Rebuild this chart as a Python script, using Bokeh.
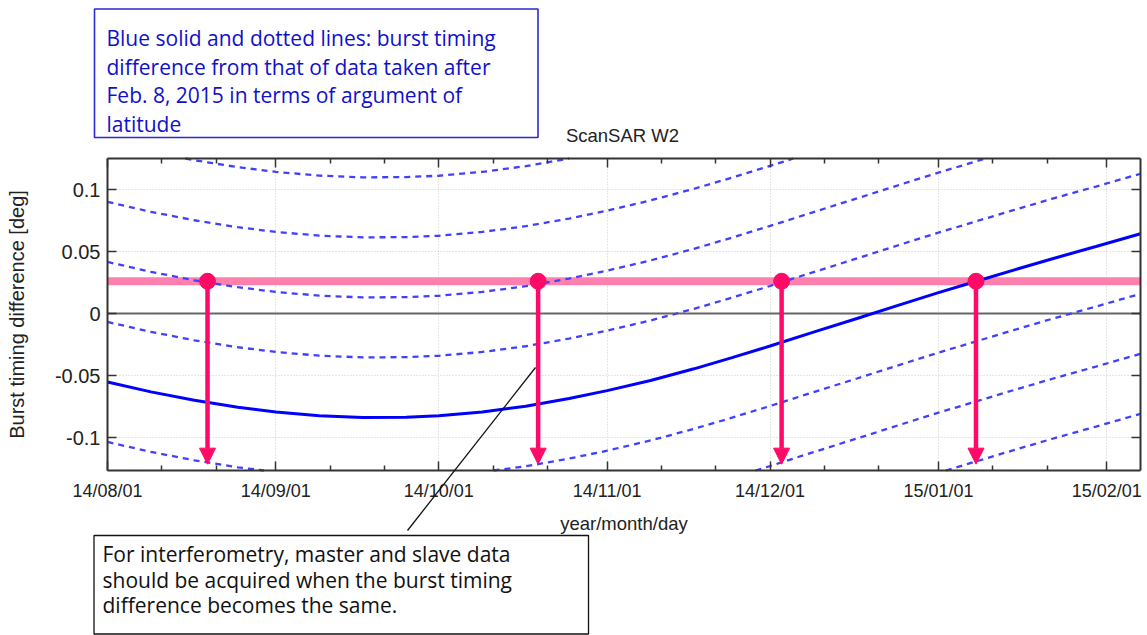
import pandas as pd
from bokeh.plotting import figure
from bokeh.models import (Range1d, FixedTicker, DatetimeTickFormatter, CustomJSTickFormatter,
                          DatetimeAxis, LinearAxis, Label, Arrow, NormalHead, ColumnDataSource,
                          BoxAnnotation, Grid)
from bokeh.embed import file_html
from bokeh.resources import INLINE

# ---------------- data ----------------
solid_dates = ["2014-08-01", "2014-08-09", "2014-08-17", "2014-08-25", "2014-09-01",
               "2014-09-09", "2014-09-17", "2014-09-25", "2014-10-01", "2014-10-09",
               "2014-10-17", "2014-10-25", "2014-11-01", "2014-11-09", "2014-11-17",
               "2014-11-24", "2014-12-01", "2014-12-09", "2014-12-17", "2014-12-25",
               "2015-01-01", "2015-01-08", "2015-01-15", "2015-01-22", "2015-01-30",
               "2015-02-07 05:00"]
solid_values = [-0.0552, -0.0632, -0.0700, -0.0756, -0.0794,
                -0.0824, -0.0838, -0.0836, -0.0825, -0.0794,
                -0.0748, -0.0686, -0.0622, -0.0540, -0.0446,
                -0.0356, -0.0262, -0.0150, -0.0040, 0.0072,
                0.0168, 0.0260, 0.0352, 0.0442, 0.0540,
                0.0643]
# dotted lines: the solid curve shifted by these amounts [deg]
dashed_offsets = [-0.1452, -0.0968, -0.0484, 0.0484, 0.0968, 0.1452, 0.1936]

marker_dates = ["2014-08-19 10:00", "2014-10-19 07:00", "2014-12-03 03:00", "2015-01-07 22:00"]
marker_level = 0.026
arrow_tip = -0.1215

month_ticks = ["2014-08-01", "2014-09-01", "2014-10-01", "2014-11-01", "2014-12-01",
               "2015-01-01", "2015-02-01"]
minor_ticks = ["2014-08-11", "2014-08-21", "2014-09-11", "2014-09-21", "2014-10-11", "2014-10-21",
               "2014-11-11", "2014-11-21", "2014-12-11", "2014-12-21", "2015-01-11", "2015-01-21"]
y_ticks = [-0.1, -0.05, 0, 0.05, 0.1]

x_start, x_end = "2014-08-01", "2015-02-07 05:00"
y_start, y_end = -0.1266, 0.125

title_text = "ScanSAR W2"
x_label = "year/month/day"
y_label = "Burst timing difference [deg]"
note_top = ["Blue solid and dotted lines: burst timing",
            "difference from that of data taken after",
            "Feb. 8, 2015 in terms of argument of",
            "latitude"]
note_bottom = ["For interferometry, master and slave data",
               "should be acquired when the burst timing",
               "difference becomes the same."]

# ---------------- helpers ----------------
EPOCH = pd.Timestamp("1970-01-01")


def ms(s):
    return (pd.Timestamp(s) - EPOCH) / pd.Timedelta(milliseconds=1)


W, H = 1147, 635
L, R, T, B = 107, 1140, 158, 470          # chart box on the page (px)
X0, X1 = ms(x_start), ms(x_end)
MS_PX = (X1 - X0) / (R - L)
U_PX = (y_end - y_start) / (B - T)
XA, XB = X0 - L * MS_PX, X1 + (W - R) * MS_PX      # whole-page data range
YA, YB = y_start - (H - B) * U_PX, y_end + T * U_PX


def px_x(px):
    return XA + px * MS_PX


def px_y(py):
    return YB - py * U_PX


def clip_line(xs, ys, lo, hi):
    """Cut a polyline to the band lo <= y <= hi; returns list of pieces."""
    pieces, cur = [], None
    for i in range(len(xs) - 1):
        x0, y0, x1, y1 = xs[i], ys[i], xs[i + 1], ys[i + 1]
        if y1 == y0:
            if lo <= y0 <= hi:
                t0, t1 = 0.0, 1.0
            else:
                t0, t1 = 1.0, 0.0
        else:
            ta, tb = (lo - y0) / (y1 - y0), (hi - y0) / (y1 - y0)
            t0, t1 = max(0.0, min(ta, tb)), min(1.0, max(ta, tb))
        if t0 > t1:
            if cur:
                pieces.append(cur)
            cur = None
            continue
        a = (x0 + t0 * (x1 - x0), y0 + t0 * (y1 - y0))
        b = (x0 + t1 * (x1 - x0), y0 + t1 * (y1 - y0))
        if cur is None:
            cur = ([a[0]], [a[1]])
        cur[0].append(b[0])
        cur[1].append(b[1])
        if t1 < 1.0:
            pieces.append(cur)
            cur = None
    if cur:
        pieces.append(cur)
    return pieces


BLUE = "#0000ff"
DBLUE = "#4040ff"
PINK = "#ff80ae"
RED = "#ff0a66"
AX = "#333333"
FONT = "Liberation Sans"
NOTE_FONT = "Open Sans"

p = figure(width=W, height=H, x_axis_type="datetime",
           x_range=Range1d(XA, XB), y_range=Range1d(YA, YB),
           output_backend="svg", toolbar_location=None,
           min_border_left=0, min_border_right=0, min_border_top=0, min_border_bottom=0)
p.title.visible = False
p.background_fill_color = "white"
p.border_fill_color = "white"
p.outline_line_color = None

xticker = FixedTicker(ticks=[ms(d) for d in month_ticks], minor_ticks=[ms(d) for d in minor_ticks])
yticker = FixedTicker(ticks=y_ticks)
fmt = "%y/%m/%d"
xfmt = DatetimeTickFormatter(days=fmt, months=fmt, years=fmt, hours=fmt, hourmin=fmt)


def style_axis(ax, labels=True, minor=True):
    ax.axis_line_color = AX
    ax.axis_line_width = 2
    ax.major_tick_in = 9
    ax.major_tick_out = 0
    ax.minor_tick_in = 5 if minor else 0
    ax.minor_tick_out = 0
    ax.major_tick_line_color = AX
    ax.major_tick_line_width = 1.5
    ax.minor_tick_line_color = AX if minor else None
    ax.minor_tick_line_width = 1.5
    if labels:
        ax.major_label_text_font = FONT
        ax.major_label_text_color = "#222222"
    else:
        ax.major_label_text_color = None
        ax.major_label_text_alpha = 0


xa = p.xaxis[0]
xa.ticker = xticker
xa.formatter = xfmt
xa.fixed_location = y_start
xa.bounds = (X0, X1)
style_axis(xa)
xa.major_label_text_font_size = "18px"
xa.major_label_standoff = 10
xa.axis_label = x_label
xa.axis_label_text_font = FONT
xa.axis_label_text_font_size = "18.5px"
xa.axis_label_text_font_style = "normal"
xa.axis_label_text_color = "#222222"
xa.axis_label_standoff = 9

ya = p.yaxis[0]
ya.ticker = yticker
ya.formatter = CustomJSTickFormatter(code="return String(Math.round(tick*1000)/1000);")
ya.fixed_location = X0
ya.bounds = (y_start, y_end)
style_axis(ya, minor=False)
ya.major_label_text_font_size = "20px"
ya.major_label_standoff = 7
ya.axis_label = y_label
ya.axis_label_text_font = FONT
ya.axis_label_text_font_size = "20px"
ya.axis_label_text_font_style = "normal"
ya.axis_label_text_color = "#222222"
ya.axis_label_standoff = 24

top_ax = DatetimeAxis(ticker=xticker, formatter=xfmt, fixed_location=y_end, bounds=(X0, X1))
style_axis(top_ax, labels=False)
p.add_layout(top_ax, "above")
right_ax = LinearAxis(ticker=yticker, fixed_location=X1, bounds=(y_start, y_end))
style_axis(right_ax, labels=False, minor=False)
p.add_layout(right_ax, "right")

# dotted grid limited to the chart box
GRID_COLOR, GRID_DASH = "#cccccc", "1 2"
if "cross_bounds" in Grid.properties():
    p.xgrid[0].ticker = xticker
    p.xgrid[0].bounds = (X0, X1)
    p.xgrid[0].cross_bounds = (y_start, y_end)
    p.ygrid[0].ticker = yticker
    p.ygrid[0].bounds = (y_start, y_end)
    p.ygrid[0].cross_bounds = (X0, X1)
    for g in (p.xgrid[0], p.ygrid[0]):
        g.grid_line_color = GRID_COLOR
        g.grid_line_dash = GRID_DASH
        g.grid_line_width = 1
else:
    p.xgrid[0].visible = False
    p.ygrid[0].visible = False
    mt = [ms(d) for d in month_ticks]
    p.segment(x0=mt, y0=[y_start] * len(mt), x1=mt, y1=[y_end] * len(mt),
              line_color=GRID_COLOR, line_dash=GRID_DASH, line_width=1)
    p.segment(x0=[X0] * len(y_ticks), y0=y_ticks, x1=[X1] * len(y_ticks), y1=y_ticks,
              line_color=GRID_COLOR, line_dash=GRID_DASH, line_width=1)

# zero line and pink level line
p.line([X0, X1], [0, 0], line_color="#666666", line_width=2)
p.line([X0, X1], [marker_level, marker_level], line_color=PINK, line_width=8)

# curves (cut to the chart box)
sx = [ms(d) for d in solid_dates]
dxs, dys = [], []
for off in dashed_offsets:
    for px_, py_ in clip_line(sx, [v + off for v in solid_values], y_start, y_end):
        dxs.append(px_)
        dys.append(py_)
p.multi_line(dxs, dys, line_color=DBLUE, line_width=2.3, line_dash="6 5")
for px_, py_ in clip_line(sx, solid_values, y_start, y_end):
    p.line(px_, py_, line_color=BLUE, line_width=3)

# markers and arrows
mx = [ms(d) for d in marker_dates]
msrc = ColumnDataSource(dict(x=mx, y=[marker_level] * len(mx), y2=[arrow_tip] * len(mx)))
p.add_layout(Arrow(source=msrc, x_start="x", y_start="y", x_end="x", y_end="y2",
                   line_color=RED, line_width=4.5,
                   end=NormalHead(size=16, fill_color=RED, line_color=RED, line_width=1)))
p.scatter("x", "y", source=msrc, size=16, color=RED)

# title
p.add_layout(Label(x=px_x(622), y=px_y(135), text=title_text, text_align="center",
                   text_baseline="alphabetic", text_font=FONT, text_font_size="18.5px",
                   text_color="#222222"))

# top note box
p.add_layout(BoxAnnotation(left=px_x(94), right=px_x(537.5), top=px_y(8.5), bottom=px_y(137),
                           fill_color=None, line_color="#2a2ad0", line_alpha=1.0, line_width=1.6))
for i, line in enumerate(note_top):
    p.add_layout(Label(x=px_x(106), y=px_y(37.3 + 28.7 * i), text=line, text_align="left",
                       text_baseline="alphabetic", text_font=NOTE_FONT, text_font_size="21px",
                       text_color="#1010cc"))

# bottom note box
p.add_layout(BoxAnnotation(left=px_x(93.5), right=px_x(588), top=px_y(535), bottom=px_y(633.5),
                           fill_color=None, line_color="#111111", line_alpha=1.0, line_width=1.3))
for i, line in enumerate(note_bottom):
    p.add_layout(Label(x=px_x(102), y=px_y(553.3 + 25.8 * i), text=line, text_align="left",
                       text_baseline="alphabetic", text_font=NOTE_FONT, text_font_size="21px",
                       text_color="#111111"))

# leader line
p.add_layout(Arrow(x_start=px_x(407), y_start=px_y(530), x_end=px_x(535), y_end=px_y(367),
                   start=None, end=None, line_color="#111111", line_width=1.3))

open("out.html", "w").write(file_html(p, INLINE))
